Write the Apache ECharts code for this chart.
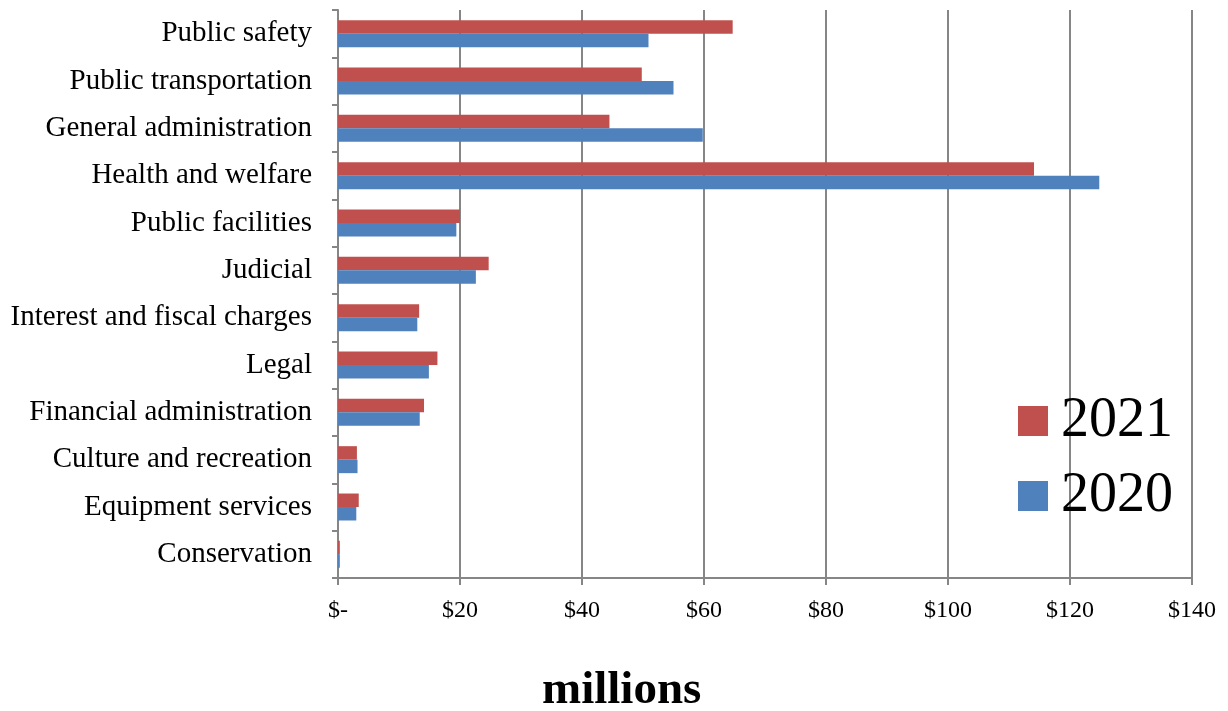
<!DOCTYPE html>
<html>
<head>
<meta charset="utf-8">
<script src="https://cdn.jsdelivr.net/npm/echarts@6/dist/echarts.min.js"></script>
<style>
html,body{margin:0;padding:0;background:#fff;}
#chart{width:1228px;height:711px;}
</style>
</head>
<body>
<div id="chart"></div>
<script>
const categories = ["Public safety","Public transportation","General administration","Health and welfare","Public facilities","Judicial","Interest and fiscal charges","Legal","Financial administration","Culture and recreation","Equipment services","Conservation"];
const values2021 = [64.7, 49.8, 44.5, 114.1, 20.0, 24.7, 13.3, 16.3, 14.1, 3.1, 3.4, 0.3];
const values2020 = [50.9, 55.0, 59.8, 124.8, 19.4, 22.6, 13.0, 14.9, 13.4, 3.2, 3.0, 0.3];
const xTicks = [0, 20, 40, 60, 80, 100, 120, 140];

const chart = echarts.init(document.getElementById('chart'));
const font = '"Liberation Serif", "Times New Roman", serif';
chart.setOption({
  animation: false,
  textStyle: {fontFamily: font},
  grid: {left: 338, right: 36, top: 10, bottom: 133, containLabel: false},
  title: {
    text: 'millions', left: 537, top: 662,
    textStyle: {fontFamily: font, fontSize: 47, fontWeight: 'bold', color: '#000'}
  },
  legend: {
    orient: 'vertical', left: 1013, top: 388,
    data: ['2021', '2020'],
    icon: 'rect', itemWidth: 30, itemHeight: 30, itemGap: 19,
    textStyle: {fontFamily: font, fontSize: 56, color: '#000', padding: [0, 0, 0, 8]}
  },
  xAxis: {
    type: 'value', min: 0, max: 140, interval: 20,
    axisLine: {show: true, lineStyle: {color: '#868686', width: 2}},
    axisTick: {show: true, length: 7, lineStyle: {color: '#868686', width: 2}},
    splitLine: {show: true, lineStyle: {color: '#868686', width: 2}},
    axisLabel: {
      fontFamily: font, fontSize: 24, color: '#000', margin: 21,
      formatter: v => xTicks.indexOf(v) >= 0 ? (v === 0 ? '$-' : '$' + v) : ''
    }
  },
  yAxis: {
    type: 'category', data: categories, inverse: true,
    axisLine: {show: true, lineStyle: {color: '#868686', width: 2}},
    axisTick: {show: true, length: 6, lineStyle: {color: '#868686', width: 2}},
    axisLabel: {fontFamily: font, fontSize: 29, color: '#000', margin: 26, padding: [5, 0, 0, 0]}
  },
  series: [
    {name: '2021', type: 'bar', data: values2021, itemStyle: {color: '#C0504D'}, barGap: '0%', barCategoryGap: '43%'},
    {name: '2020', type: 'bar', data: values2020, itemStyle: {color: '#4F81BD'}, barGap: '0%', barCategoryGap: '43%'}
  ]
});
</script>
</body>
</html>
